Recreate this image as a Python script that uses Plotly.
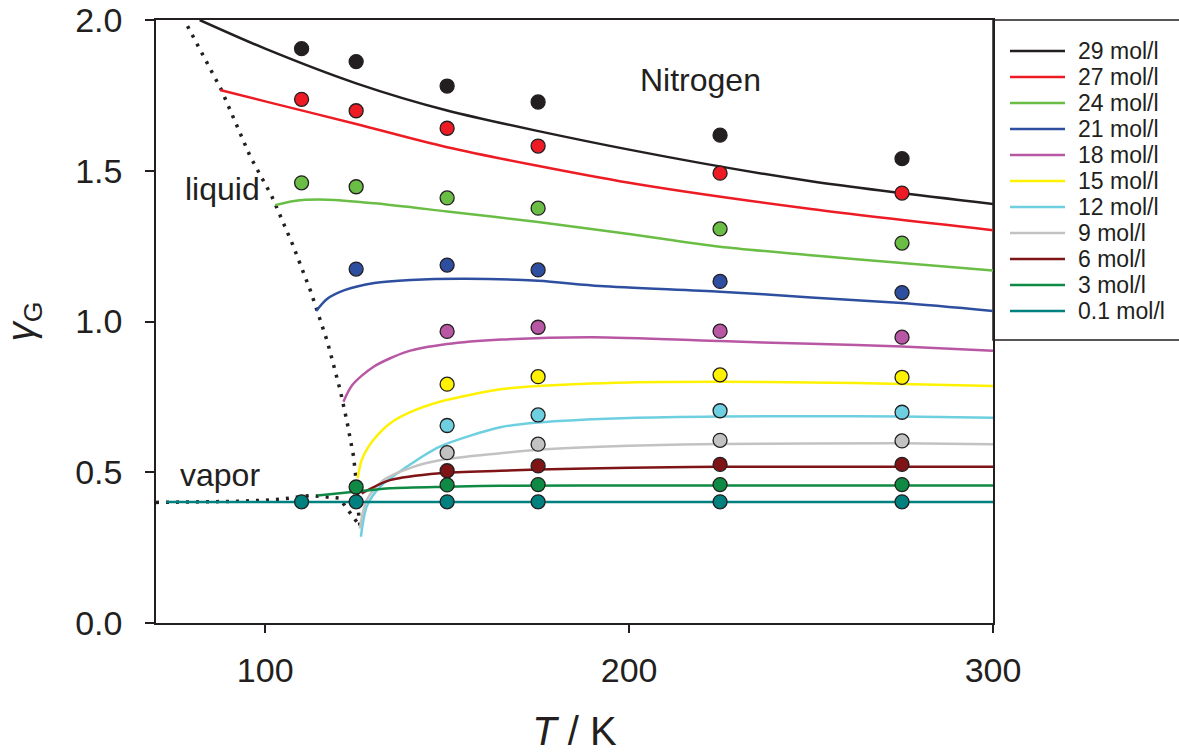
import plotly.graph_objects as go

# ---- simulation points (markers) ----
T_pts = [110, 125, 150, 175, 225, 275]

labels = ["29 mol/l", "27 mol/l", "24 mol/l", "21 mol/l", "18 mol/l", "15 mol/l",
          "12 mol/l", "9 mol/l", "6 mol/l", "3 mol/l", "0.1 mol/l"]
colors = ["#231f20", "#ed1c24", "#6abd45", "#2e4fa0", "#b857a4", "#fff200",
          "#6ecfe0", "#c2c2c2", "#7f1416", "#0f8a44", "#00807e"]

sim_29 = [1.905, 1.862, 1.781, 1.728, 1.618, 1.540]
sim_27 = [1.737, 1.699, 1.641, 1.582, 1.492, 1.426]
sim_24 = [1.460, 1.447, 1.410, 1.376, 1.307, 1.260]
sim_21 = [None, 1.174, 1.187, 1.171, 1.133, 1.096]
sim_18 = [None, None, 0.967, 0.981, 0.968, 0.948]
sim_15 = [None, None, 0.792, 0.817, 0.823, 0.815]
sim_12 = [None, None, 0.655, 0.690, 0.704, 0.699]
sim_9 = [None, None, 0.565, 0.593, 0.606, 0.604]
sim_6 = [None, None, 0.505, 0.521, 0.526, 0.526]
sim_3 = [None, 0.451, 0.458, 0.459, 0.459, 0.459]
sim_01 = [0.402, 0.402, 0.402, 0.402, 0.402, 0.402]

# ---- equation-of-state curves ----
eos_29_T = [82, 100, 125, 150, 200, 250, 300]
eos_29_g = [2.0, 1.905, 1.79, 1.70, 1.57, 1.465, 1.39]
eos_27_T = [87.6, 100, 125, 150, 200, 250, 300]
eos_27_g = [1.768, 1.73, 1.655, 1.578, 1.46, 1.373, 1.303]
eos_24_T = [102.7, 108, 117, 130, 150, 175, 200, 225, 250, 275, 300]
eos_24_g = [1.386, 1.400, 1.404, 1.392, 1.365, 1.33, 1.29, 1.248, 1.22, 1.194, 1.169]
eos_21_T = [114, 117, 122, 130, 140, 155, 175, 192, 225, 250, 275, 300]
eos_21_g = [1.035, 1.075, 1.105, 1.128, 1.138, 1.142, 1.135, 1.118, 1.099, 1.08, 1.061, 1.035]
eos_18_T = [121.5, 124, 129.8, 139, 150, 165, 190, 225, 250, 275, 300]
eos_18_g = [0.734, 0.79, 0.850, 0.900, 0.925, 0.940, 0.948, 0.935, 0.926, 0.917, 0.903]
eos_15_T = [125.4, 126.5, 128.4, 131, 134.3, 140, 148, 164.6, 175, 200, 225, 250, 275, 300]
eos_15_g = [0.48, 0.54, 0.585, 0.625, 0.662, 0.700, 0.734, 0.775, 0.786, 0.798, 0.800, 0.798, 0.793, 0.786]
eos_12_T = [126.3, 127.9, 131.6, 138.9, 148, 164.6, 175, 200, 225, 250, 275, 300]
eos_12_g = [0.286, 0.386, 0.452, 0.518, 0.585, 0.649, 0.665, 0.680, 0.685, 0.686, 0.685, 0.681]
eos_9_T = [126, 127.9, 132.5, 140.7, 148, 164.6, 175, 200, 225, 275, 300]
eos_9_g = [0.313, 0.408, 0.474, 0.518, 0.540, 0.563, 0.575, 0.588, 0.594, 0.596, 0.593]
eos_6_T = [126.5, 134.3, 148, 164.6, 175, 200, 225, 300]
eos_6_g = [0.43, 0.474, 0.497, 0.505, 0.509, 0.515, 0.518, 0.518]
eos_3_T = [114.4, 125.2, 134.3, 150, 164.6, 200, 300]
eos_3_g = [0.423, 0.436, 0.447, 0.452, 0.455, 0.456, 0.456]
eos_01_T = [72.8, 300]
eos_01_g = [0.401, 0.401]

# ---- saturated vapor / liquid boundary (dotted) ----
sat_T = [70, 80, 90, 100, 104.6, 112.5, 117.9, 120.4, 126.1,
         125.8, 125.2, 124.3, 122.4, 120.6, 117.1, 112.5, 107.6, 101.8, 95.9, 87.9, 78]
sat_g = [0.400, 0.401, 0.403, 0.407, 0.411, 0.423, 0.417, 0.414, 0.320,
         0.342, 0.45, 0.552, 0.673, 0.773, 0.933, 1.10, 1.254, 1.416, 1.547, 1.77, 1.995]

sims = [sim_29, sim_27, sim_24, sim_21, sim_18, sim_15, sim_12, sim_9, sim_6, sim_3, sim_01]
eos = [(eos_29_T, eos_29_g), (eos_27_T, eos_27_g), (eos_24_T, eos_24_g), (eos_21_T, eos_21_g),
       (eos_18_T, eos_18_g), (eos_15_T, eos_15_g), (eos_12_T, eos_12_g), (eos_9_T, eos_9_g),
       (eos_6_T, eos_6_g), (eos_3_T, eos_3_g), (eos_01_T, eos_01_g)]

INK = "#231f20"
FONT = "Liberation Sans, Arial, sans-serif"

fig = go.Figure()

fig.add_trace(go.Scatter(x=sat_T, y=sat_g, mode="lines", showlegend=False,
                         line=dict(color=INK, width=3.5, dash="3px,7px")))

for (tx, gy), c, name in zip(eos, colors, labels):
    fig.add_trace(go.Scatter(x=tx, y=gy, mode="lines", name=name, showlegend=False,
                             line=dict(color=c, width=2.5, shape="spline", smoothing=0.8)))

for s, c in zip(sims, colors):
    fig.add_trace(go.Scatter(x=T_pts, y=s, mode="markers", showlegend=False,
                             marker=dict(size=14, color=c, line=dict(color=INK, width=1.3))))

# ---- figure geometry (pixels) ----
W, H = 1179, 753
L, R, TOP, B = 156, 186, 20, 130
pw, ph = W - L - R, H - TOP - B

def px_x(px):
    return (px - L) / pw

def px_y(py):
    return (H - B - py) / ph

# legend frame and entries
fig.add_shape(type="rect", xref="paper", yref="paper",
              x0=1.0, x1=px_x(W + 10), y0=px_y(340), y1=1.0,
              line=dict(color=INK, width=1.5), fillcolor="white", layer="below")
for i, (name, c) in enumerate(zip(labels, colors)):
    yy = px_y(51 + 26 * i)
    fig.add_shape(type="line", xref="paper", yref="paper",
                  x0=px_x(1010), x1=px_x(1065), y0=yy, y1=yy,
                  line=dict(color=c, width=2.5))
    fig.add_annotation(xref="paper", yref="paper", x=px_x(1076), y=yy,
                       text=name, showarrow=False, xanchor="left", yanchor="middle",
                       font=dict(family=FONT, size=23, color=INK))

# in-plot labels
fig.add_annotation(x=219.5, y=1.80, text="Nitrogen", showarrow=False,
                   font=dict(family=FONT, size=32, color=INK))
fig.add_annotation(x=77.5, y=1.44, text="liquid", showarrow=False, xanchor="left",
                   font=dict(family=FONT, size=32, color=INK))
fig.add_annotation(x=76.1, y=0.49, text="vapor", showarrow=False, xanchor="left",
                   font=dict(family=FONT, size=32, color=INK))

fig.update_layout(
    width=W, height=H,
    margin=dict(l=L, r=R, t=TOP, b=B, autoexpand=False),
    paper_bgcolor="white", plot_bgcolor="white",
    font=dict(family=FONT, color=INK),
    showlegend=False,
)
fig.update_xaxes(range=[70, 300], tickvals=[100, 200, 300], ticktext=["100", "200", "300"],
                 showgrid=False, zeroline=False, showline=True, linecolor=INK, linewidth=1.5,
                 mirror=True, ticks="outside", ticklen=8, tickwidth=1.5, tickcolor=INK,
                 tickfont=dict(size=34, color=INK), ticklabelstandoff=8,
                 title=dict(text="<i>T</i> / K", font=dict(size=40, color=INK), standoff=30))
fig.update_yaxes(range=[0, 2.0], tickvals=[0, 0.5, 1.0, 1.5, 2.0],
                 ticktext=["0.0", "0.5", "1.0", "1.5", "2.0"],
                 showgrid=False, zeroline=False, showline=True, linecolor=INK, linewidth=1.5,
                 mirror=True, ticks="outside", ticklen=9, tickwidth=1.5, tickcolor=INK,
                 tickfont=dict(size=34, color=INK), ticklabelstandoff=16,
                 title=dict(text="<i>γ</i><sub>G</sub>", font=dict(size=38, color=INK), standoff=30))

fig.write_html("out.html")
